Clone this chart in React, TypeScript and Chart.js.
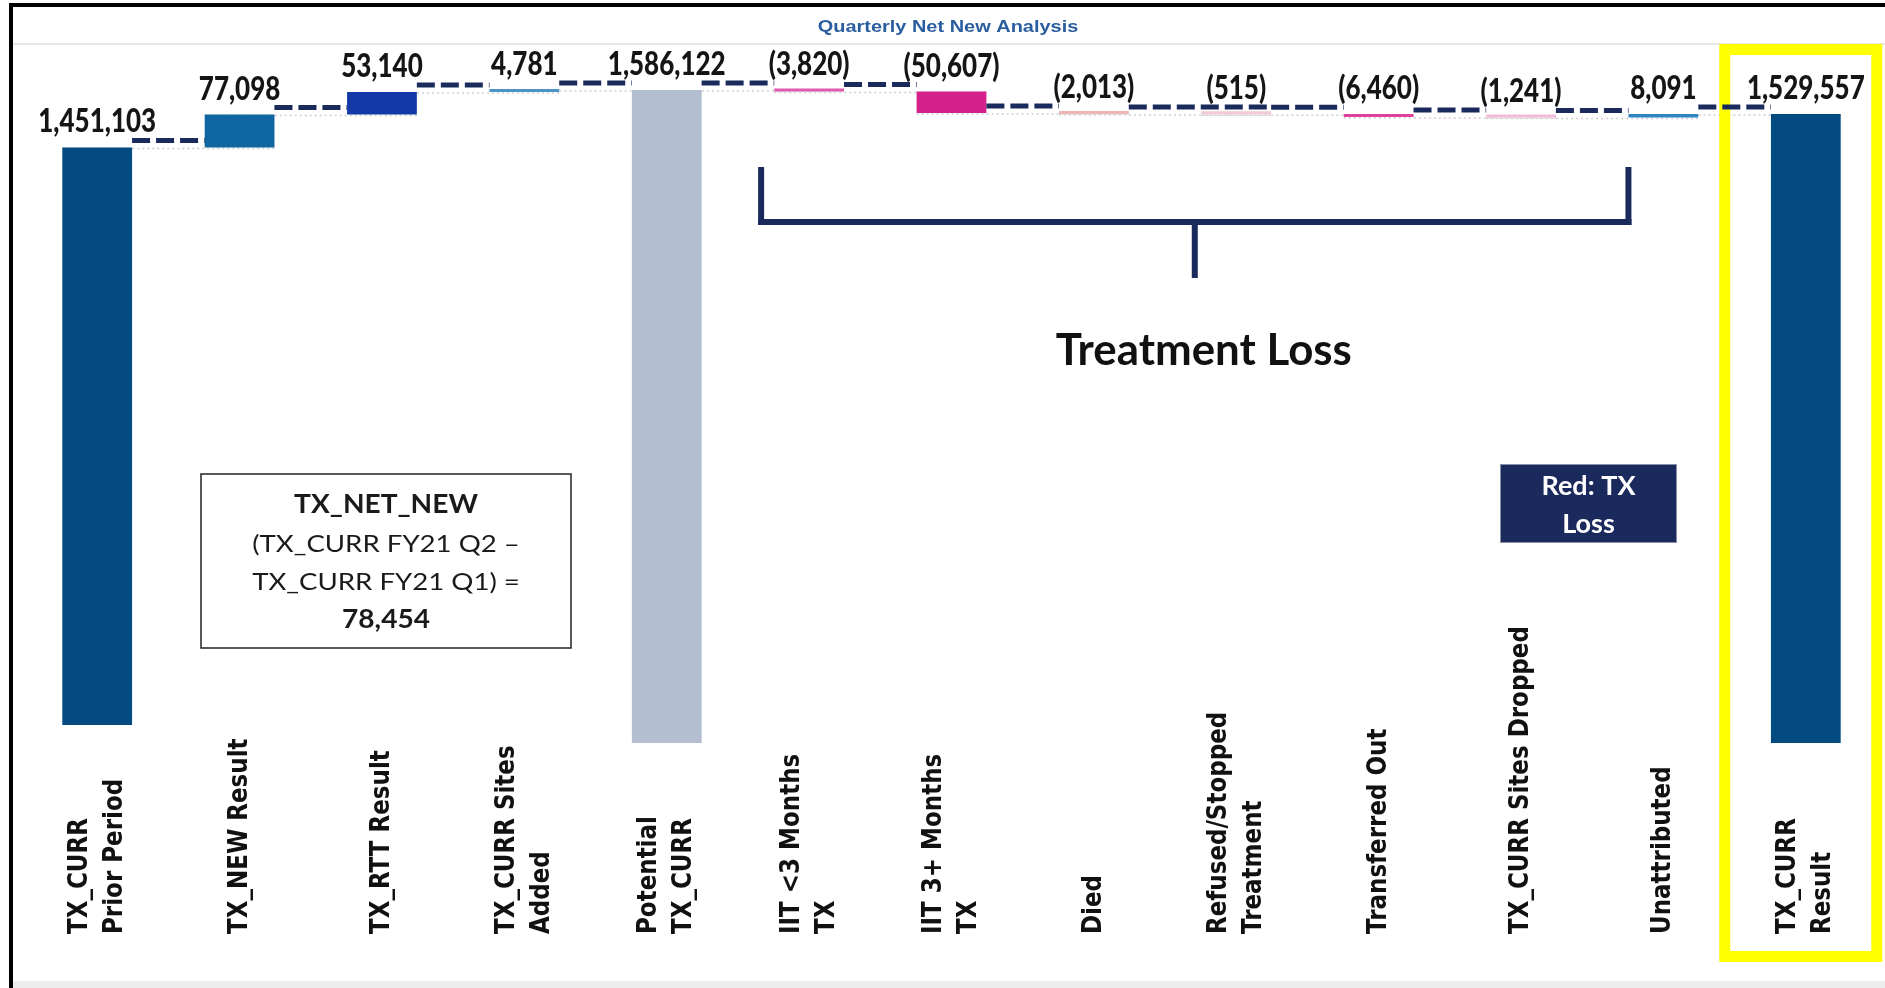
import React, { useEffect, useRef } from 'react';
import { Chart, registerables } from 'chart.js';

Chart.register(...registerables);

// ---------------- data ----------------
const categories: string[][] = [
  ['TX_CURR', 'Prior Period'],
  ['TX_NEW Result'],
  ['TX_RTT Result'],
  ['TX_CURR Sites', 'Added'],
  ['Potential', 'TX_CURR'],
  ['IIT <3 Months', 'TX'],
  ['IIT 3+ Months', 'TX'],
  ['Died'],
  ['Refused/Stopped', 'Treatment'],
  ['Transferred Out'],
  ['TX_CURR Sites Dropped'],
  ['Unattributed'],
  ['TX_CURR', 'Result'],
];

const changes: number[] = [
  1451103, 77098, 53140, 4781, 1586122, -3820, -50607, -2013, -515, -6460, -1241, 8091, 1529557,
];

const isTotal: boolean[] = [
  true, false, false, false, true, false, false, false, false, false, false, false, true,
];

// truncated value axis (the picture does not start at zero)
const axisMin = 51500;
const axisMax = 1680000;
const priorPeriodBarBase = 94000;

const barColors: string[] = [
  '#034A80', '#0F66A2', '#1239A7', '#4A94C8', '#B3BED0', '#E25AAE', '#D4218B',
  '#EDB5B5', '#F2C9D5', '#E0409F', '#F3B9DB', '#2D86C2', '#034A80',
];

const titleText = 'Quarterly Net New Analysis';
const bracketLabel = 'Treatment Loss';
const bracketFrom = 5; // first category under the bracket
const bracketTo = 11; // last category under the bracket
const netNewLines = ['TX_NET_NEW', '(TX_CURR FY21 Q2 \u2013', 'TX_CURR FY21 Q1) =', '78,454'];
const noteLines = ['Red: TX', 'Loss'];
const highlightIndex = 12;

// ---------------- helpers ----------------
function buildFloating(): [number, number][] {
  let running = 0;
  return changes.map((v, i) => {
    if (isTotal[i]) {
      running = v;
      return [i === 0 ? priorPeriodBarBase : axisMin, v] as [number, number];
    }
    const s = running;
    running += v;
    return [s, running] as [number, number];
  });
}

function fmt(v: number): string {
  const s = Math.abs(v).toLocaleString('en-US');
  return v < 0 ? `(${s})` : s;
}

function sText(
  ctx: CanvasRenderingContext2D,
  text: string,
  x: number,
  y: number,
  font: string,
  color: string,
  sx: number,
  sy: number,
  align: CanvasTextAlign = 'center'
) {
  ctx.save();
  ctx.translate(x, y);
  ctx.scale(sx, sy);
  ctx.font = font;
  ctx.fillStyle = color;
  ctx.textAlign = align;
  ctx.textBaseline = 'alphabetic';
  ctx.fillText(text, 0, 0);
  ctx.restore();
}

const NAVY = '#1B2A5C';

const decorPlugin = {
  id: 'decor',
  beforeDraw(chart: any) {
    const ctx: CanvasRenderingContext2D = chart.ctx;
    ctx.save();
    // frame
    ctx.fillStyle = '#000';
    ctx.fillRect(9, 3, 1885, 4);
    ctx.fillRect(9, 3, 4, 985);
    ctx.fillStyle = '#E8E8E8';
    ctx.fillRect(13, 43, 1885, 2);
    ctx.fillStyle = '#ECECEC';
    ctx.fillRect(13, 981, 1885, 7);
    // title
    sText(ctx, titleText, 948, 32, 'bold 15px "Liberation Sans"', '#2A5D9F', 1.33, 1.05);
    // faint dotted level lines
    const meta = chart.getDatasetMeta(0);
    const ys = chart.scales.y;
    const fl = buildFloating();
    ctx.strokeStyle = '#CFCFCF';
    ctx.lineWidth = 1.5;
    ctx.setLineDash([2, 3]);
    for (let i = 0; i < meta.data.length - 1; i++) {
      const a = meta.data[i];
      const b = meta.data[i + 1];
      const y = ys.getPixelForValue(fl[i][1]) + 1;
      ctx.beginPath();
      ctx.moveTo(a.x - a.width / 2, y);
      ctx.lineTo(b.x + b.width / 2, y);
      ctx.stroke();
    }
    ctx.restore();
  },
  afterDraw(chart: any) {
    const ctx: CanvasRenderingContext2D = chart.ctx;
    const meta = chart.getDatasetMeta(0);
    const xs = chart.scales.x;
    const ys = chart.scales.y;
    const fl = buildFloating();

    ctx.save();
    // highlight box around final category
    {
      const b = meta.data[highlightIndex];
      ctx.strokeStyle = '#FFFF00';
      ctx.lineWidth = 11;
      ctx.setLineDash([]);
      ctx.strokeRect(b.x - 81, 49.5, 152, 907);
    }

    // dashed connectors
    ctx.strokeStyle = NAVY;
    ctx.lineWidth = 5;
    ctx.setLineDash([18, 6]);
    for (let i = 0; i < meta.data.length - 1; i++) {
      const a = meta.data[i];
      const b = meta.data[i + 1];
      const y = ys.getPixelForValue(fl[i][1]) - 7;
      ctx.beginPath();
      ctx.moveTo(a.x + a.width / 2, y);
      let endX = b.x - b.width / 2;
      if (!isTotal[i + 1] && Math.abs(changes[i + 1]) < 1000) endX = b.x + b.width / 2;
      ctx.lineTo(endX, y);
      ctx.stroke();
    }
    ctx.setLineDash([]);

    // value labels
    for (let i = 0; i < meta.data.length; i++) {
      const b = meta.data[i];
      const top = Math.min(ys.getPixelForValue(fl[i][0]), ys.getPixelForValue(fl[i][1]));
      sText(ctx, fmt(changes[i]), b.x, top - 15, '900 26px Lato', '#151515', 1.0, 1.25);
    }

    // category labels (rotated, start-aligned at the bottom)
    categories.forEach((lines, i) => {
      const cx = xs.getPixelForValue(i);
      const n = lines.length;
      lines.forEach((line, j) => {
        const off = (j - (n - 1) / 2) * 35;
        ctx.save();
        ctx.translate(cx + off, 934);
        ctx.rotate(-Math.PI / 2);
        ctx.scale(1, 1.18);
        ctx.font = 'bold 23px "DejaVu Sans"';
        ctx.fillStyle = '#111';
        ctx.textAlign = 'left';
        ctx.textBaseline = 'middle';
        ctx.fillText(line, 0, 0);
        ctx.restore();
      });
    });

    // bracket over treatment loss categories
    {
      const x1 = xs.getPixelForValue(bracketFrom) - 48;
      const x2 = xs.getPixelForValue(bracketTo) - 35;
      const mid = (x1 + x2) / 2;
      ctx.fillStyle = NAVY;
      ctx.fillRect(x1 - 3, 167, 6, 58);
      ctx.fillRect(x2 - 3, 167, 6, 58);
      ctx.fillRect(x1 - 3, 219, x2 - x1 + 6, 6);
      ctx.fillRect(mid - 3, 222, 6, 56);
      sText(ctx, bracketLabel, mid + 9, 365, 'bold 43px Lato', '#111', 1.02, 1);
    }

    // TX_NET_NEW note
    {
      const bx = 201, by = 474, bw = 370, bh = 174;
      ctx.strokeStyle = '#222';
      ctx.lineWidth = 1.5;
      ctx.strokeRect(bx, by, bw, bh);
      const cx = bx + bw / 2;
      sText(ctx, netNewLines[0], cx, 513, 'bold 26px Lato', '#1a1a1a', 1.08, 1.05);
      sText(ctx, netNewLines[1], cx, 552, '23px Lato', '#1a1a1a', 1.2, 1.02);
      sText(ctx, netNewLines[2], cx, 590, '23px Lato', '#1a1a1a', 1.2, 1.02);
      sText(ctx, netNewLines[3], cx, 628, 'bold 26px Lato', '#1a1a1a', 1.08, 1.05);
    }

    // red loss note
    {
      const bx = 1500, by = 464, bw = 177, bh = 79;
      ctx.fillStyle = NAVY;
      ctx.fillRect(bx, by, bw, bh);
      ctx.strokeStyle = '#8A90A8';
      ctx.lineWidth = 1;
      ctx.strokeRect(bx + 0.5, by + 0.5, bw - 1, bh - 1);
      sText(ctx, noteLines[0], bx + bw / 2, 495, 'bold 27px Lato', '#FFFFFF', 1, 1);
      sText(ctx, noteLines[1], bx + bw / 2, 533, 'bold 27px Lato', '#FFFFFF', 1, 1);
    }
    ctx.restore();
  },
};

export default function App() {
  const ref = useRef<HTMLCanvasElement | null>(null);
  useEffect(() => {
    if (!ref.current) return;
    const chart = new Chart(ref.current, {
      type: 'bar',
      data: {
        labels: categories.map((c) => c.join(' ')),
        datasets: [
          {
            data: buildFloating() as any,
            backgroundColor: barColors,
            borderWidth: 0,
            categoryPercentage: 1,
            barPercentage: 0.49,
            minBarLength: 3,
          },
        ],
      },
      options: {
        animation: false,
        responsive: false,
        maintainAspectRatio: false,
        layout: { padding: { left: 26, right: 8, top: 50, bottom: 245 } },
        plugins: {
          legend: { display: false },
          tooltip: { enabled: false },
          title: { display: false },
        },
        scales: {
          x: { display: false, grid: { display: false } },
          y: { display: false, min: axisMin, max: axisMax, grid: { display: false } },
        },
      },
      plugins: [decorPlugin],
    });
    return () => chart.destroy();
  }, []);
  return (
    <canvas
      ref={ref}
      width={1885}
      height={988}
      style={{ position: 'fixed', left: 0, top: 0, display: 'block', background: '#fff' }}
    />
  );
}
